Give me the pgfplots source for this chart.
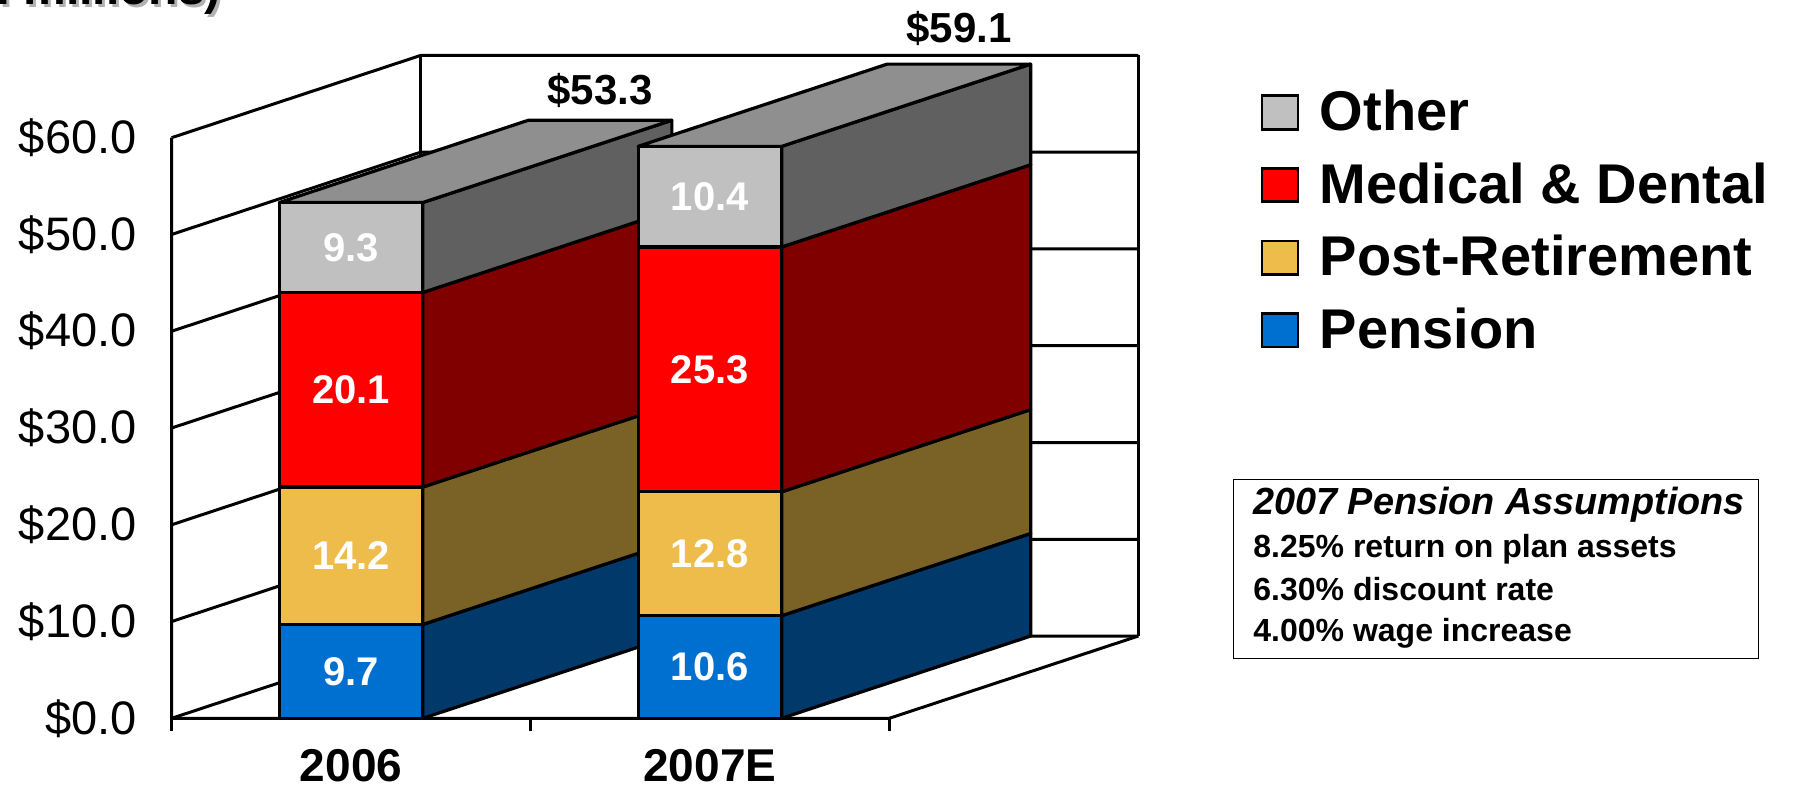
\documentclass[border=0pt]{standalone}
\usepackage{fontspec}
\setmainfont{Liberation Sans}
\usepackage{pgfplots}
\pgfplotsset{compat=1.18}
\definecolor{othF}{HTML}{C0C0C0}
\definecolor{othS}{HTML}{606060}
\definecolor{othT}{HTML}{8F8F8F}
\definecolor{medF}{HTML}{FF0000}
\definecolor{medS}{HTML}{800000}
\definecolor{posF}{HTML}{EDBC4B}
\definecolor{posS}{HTML}{7A6226}
\definecolor{penF}{HTML}{0070D0}
\definecolor{penS}{HTML}{00396A}
\begin{document}
\begin{tikzpicture}
\begin{axis}[
  x=179.4pt, y=4.8385pt,
  xmin=0, xmax=2.694, ymin=0, ymax=68.5,
  clip=false,
  axis line style={draw=none},
  major tick length=0pt,
  tick style={draw=none},
  /pgf/number format/assume math mode=true,
  ytick={0,10,...,60},
  yticklabel={\$\pgfmathprintnumber[fixed,fixed zerofill,precision=1]{\tick}},
  yticklabel style={anchor=east, inner sep=0pt, xshift=-17.35pt, font=\fontsize{23.5}{28}\selectfont},
  xtick={0.5,1.5},
  xticklabels={2006,2007E},
  xticklabel style={anchor=base, inner sep=0pt, text depth=0pt, yshift=-31.8pt, font=\bfseries\fontsize{23}{28}\selectfont},
  face/.style={forget plot, draw=black, line width=1.6pt, line join=round, mark=none},
  wall/.style={forget plot, draw=black, line width=1.5pt, line join=round, mark=none},
  legend image code/.code={\draw[#1,line width=1.4pt] (0pt,-9pt) rectangle (18pt,7.7pt);},
  legend style={at={(axis cs:3.035,64.76)}, anchor=north west, draw=none, fill=none,
    inner sep=0pt, outer sep=0pt, row sep=16.8pt, column sep=0pt,
    font=\bfseries\fontsize{28}{31}\selectfont,
    nodes={inner sep=0pt, text height=19.5pt, text depth=0pt}},
  legend cell align=left,
  /tikz/every odd column/.append style={column sep=10.2pt},
]
\coordinate (O) at (axis cs:0,0);
% ---- walls, floor and grid ----
\addplot[wall] coordinates {(0,10) (0.694,18.5) (2.694,18.5)};
\addplot[wall] coordinates {(0,20) (0.694,28.5) (2.694,28.5)};
\addplot[wall] coordinates {(0,30) (0.694,38.5) (2.694,38.5)};
\addplot[wall] coordinates {(0,40) (0.694,48.5) (2.694,48.5)};
\addplot[wall] coordinates {(0,50) (0.694,58.5) (2.694,58.5)};
\addplot[wall] coordinates {(0,60) (0.694,68.5) (2.694,68.5)};
\addplot[wall] coordinates {(0,60) (0,0) (0.694,8.5) (2.694,8.5)};
\addplot[wall] coordinates {(0.694,8.5) (0.694,68.5)};
\addplot[wall] coordinates {(2.694,8.5) (2.694,68.5)};
\addplot[wall] coordinates {(0,0) (2,0) (2.694,8.5)};
\addplot[wall] coordinates {(0,0) (0,-1.34)};
\addplot[wall] coordinates {(1,0) (1,-1.34)};
\addplot[wall] coordinates {(2,0) (2,-1.34)};
% ---- bar 2006 ----
\addplot[face, fill=penS] coordinates {(0.7,0) (1.394,8.5) (1.394,18.2) (0.7,9.7)} -- cycle;
\addplot[face, fill=posS] coordinates {(0.7,9.7) (1.394,18.2) (1.394,32.4) (0.7,23.9)} -- cycle;
\addplot[face, fill=medS] coordinates {(0.7,23.9) (1.394,32.4) (1.394,52.5) (0.7,44.0)} -- cycle;
\addplot[face, fill=othS] coordinates {(0.7,44.0) (1.394,52.5) (1.394,61.8) (0.7,53.3)} -- cycle;
\addplot[face, fill=othT] coordinates {(0.3,53.3) (0.7,53.3) (1.394,61.8) (0.994,61.8)} -- cycle;
\addplot[face, fill=penF] coordinates {(0.3,0) (0.7,0) (0.7,9.7) (0.3,9.7)} -- cycle;
\addplot[face, fill=posF] coordinates {(0.3,9.7) (0.7,9.7) (0.7,23.9) (0.3,23.9)} -- cycle;
\addplot[face, fill=medF] coordinates {(0.3,23.9) (0.7,23.9) (0.7,44.0) (0.3,44.0)} -- cycle;
\addplot[face, fill=othF] coordinates {(0.3,44.0) (0.7,44.0) (0.7,53.3) (0.3,53.3)} -- cycle;
% ---- bar 2007E ----
\addplot[face, fill=penS] coordinates {(1.7,0) (2.394,8.5) (2.394,19.1) (1.7,10.6)} -- cycle;
\addplot[face, fill=posS] coordinates {(1.7,10.6) (2.394,19.1) (2.394,31.9) (1.7,23.4)} -- cycle;
\addplot[face, fill=medS] coordinates {(1.7,23.4) (2.394,31.9) (2.394,57.2) (1.7,48.7)} -- cycle;
\addplot[face, fill=othS] coordinates {(1.7,48.7) (2.394,57.2) (2.394,67.6) (1.7,59.1)} -- cycle;
\addplot[face, fill=othT] coordinates {(1.3,59.1) (1.7,59.1) (2.394,67.6) (1.994,67.6)} -- cycle;
\addplot[face, fill=penF] coordinates {(1.3,0) (1.7,0) (1.7,10.6) (1.3,10.6)} -- cycle;
\addplot[face, fill=posF] coordinates {(1.3,10.6) (1.7,10.6) (1.7,23.4) (1.3,23.4)} -- cycle;
\addplot[face, fill=medF] coordinates {(1.3,23.4) (1.7,23.4) (1.7,48.7) (1.3,48.7)} -- cycle;
\addplot[face, fill=othF] coordinates {(1.3,48.7) (1.7,48.7) (1.7,59.1) (1.3,59.1)} -- cycle;
% ---- value labels ----
\begin{scope}[every node/.style={text=white, font=\bfseries\fontsize{20}{24}\selectfont}]
\node at (axis cs:0.5,4.85) {9.7};
\node at (axis cs:0.5,16.8) {14.2};
\node at (axis cs:0.5,33.95) {20.1};
\node at (axis cs:0.5,48.65) {9.3};
\node at (axis cs:1.5,5.3) {10.6};
\node at (axis cs:1.5,17.0) {12.8};
\node at (axis cs:1.5,36.05) {25.3};
\node at (axis cs:1.5,53.9) {10.4};
\end{scope}
\node[anchor=base, font=\bfseries\fontsize{21}{24}\selectfont] at (axis cs:1.194,63.4) {\$53.3};
\node[anchor=base, font=\bfseries\fontsize{21}{24}\selectfont] at (axis cs:2.194,69.8) {\$59.1};
% ---- cut-off unit note ----
\node[anchor=base east, text=gray!60, font=\bfseries\fontsize{24}{28}\selectfont] at ([shift={(1.5pt,-1.5pt)}]axis cs:0.157,73.8) {(in millions)};
\node[anchor=base east, font=\bfseries\fontsize{24}{28}\selectfont] at (axis cs:0.157,73.8) {(in millions)};
% ---- assumptions box ----
\node[draw=black, line width=0.6pt, anchor=north west, minimum width=262.5pt, minimum height=89.75pt, inner sep=0pt] (box) at (axis cs:2.958,24.75) {};
\node[anchor=base west, inner sep=0pt, font=\bfseries\itshape\fontsize{18.9}{22}\selectfont] at ([shift={(10pt,-17.75pt)}]box.north west) {2007 Pension Assumptions};
\node[anchor=base west, inner sep=0pt, font=\bfseries\fontsize{16}{19}\selectfont] at ([shift={(10pt,-39.25pt)}]box.north west) {8.25\% return on plan assets};
\node[anchor=base west, inner sep=0pt, font=\bfseries\fontsize{16}{19}\selectfont] at ([shift={(10pt,-61pt)}]box.north west) {6.30\% discount rate};
\node[anchor=base west, inner sep=0pt, font=\bfseries\fontsize{16}{19}\selectfont] at ([shift={(10pt,-81.25pt)}]box.north west) {4.00\% wage increase};
% ---- legend ----
\addlegendimage{fill=othF, draw=black}
\addlegendentry{Other}
\addlegendimage{fill=medF, draw=black}
\addlegendentry{Medical \& Dental}
\addlegendimage{fill=posF, draw=black}
\addlegendentry{Post-Retirement}
\addlegendimage{fill=penF, draw=black}
\addlegendentry{Pension}
\end{axis}
\pgfresetboundingbox
\path[use as bounding box] ([shift={(-85.85pt,-34.85pt)}]O) rectangle ([shift={(811.15pt,359.15pt)}]O);
\end{tikzpicture}
\end{document}
